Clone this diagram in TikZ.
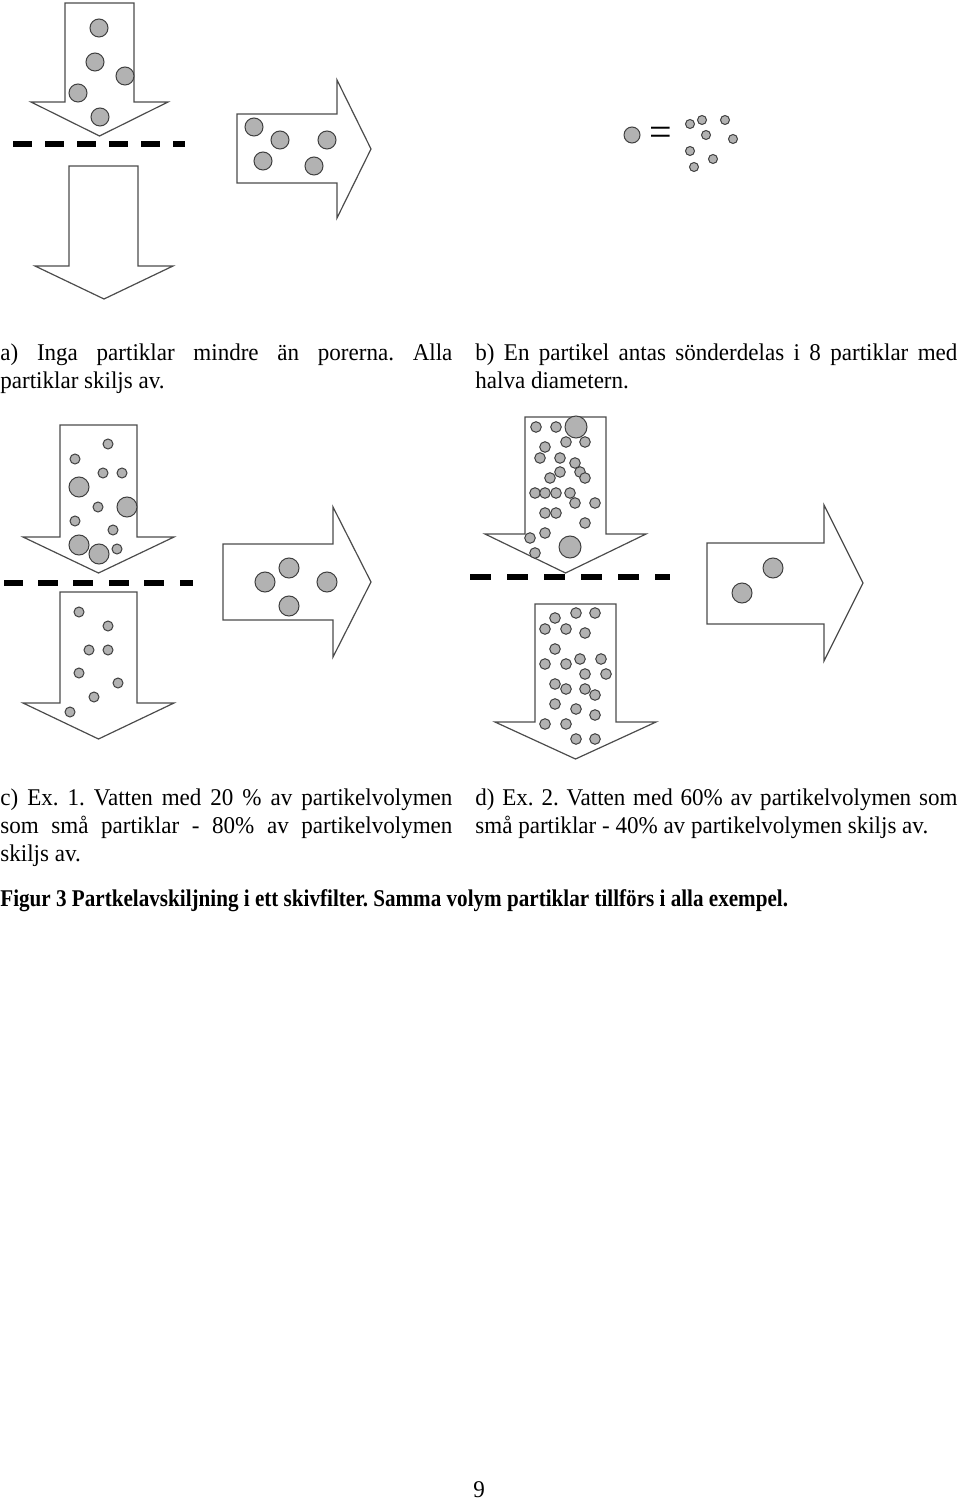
\documentclass[tikz,border=0pt]{standalone}
\usepackage{fontspec}
\setmainfont{Liberation Serif}
\newfontfamily\regfont{Liberation Serif}[FakeStretch=0.96]
\newfontfamily\capfont{Liberation Serif Bold}[FakeStretch=0.88]
\newcommand\mypart[3]{\draw[particle] (#1,#2) circle[radius=#3*0.5pt];}
\newcommand\mydash[3]{\fill[filterdash] (#1,#3-3) rectangle (#2,#3+3);}
\frenchspacing
\begin{document}
\frenchspacing
\begin{tikzpicture}[x=0.5pt,y=-0.5pt,
  arrowshape/.style={draw=black!70, line width=0.6pt, fill=white, line join=miter},
  particle/.style={draw=black!75, line width=0.5pt, fill=black!30},
  filterdash/.style={fill=black},
  txt/.style={inner sep=0pt, anchor=base west, font=\fontsize{12}{14}\regfont\frenchspacing},
]
\useasboundingbox (0,0) rectangle (960,1502);

% ---------- panel a ----------
\draw[arrowshape] (65,3) -- (134,3) -- (134,102) -- (168,102) -- (99.5,136) -- (31,102) -- (65,102) -- cycle;
\foreach \a/\b in {13/32,45/64,77/96,109/128,141/160,173/185} {\mydash{\a}{\b}{144}}
\draw[arrowshape] (69,166) -- (138,166) -- (138,266) -- (173,266) -- (104,299) -- (35,266) -- (69,266) -- cycle;
\draw[arrowshape] (237,114) -- (337,114) -- (337,80) -- (371,149) -- (337,218) -- (337,183) -- (237,183) -- cycle;
\foreach \x/\y in {99/28,95/62,125/76,78/93,100/117} {\mypart{\x}{\y}{9}}
\foreach \x/\y in {254/127,280/140,327/140,263/161,314/166} {\mypart{\x}{\y}{9}}

% ---------- panel b ----------
\mypart{632}{135}{8}
\node[inner sep=0pt, font=\fontsize{20}{20}\selectfont] (eq) at (661,136) {=};
\foreach \x/\y in {690/124,702/120,725/120,706/135,733/139,690/151,713/159,694/167} {\mypart{\x}{\y}{4.5}}

% ---------- panel c ----------
\draw[arrowshape] (60,425) -- (137,425) -- (137,537) -- (174,537) -- (98.5,573) -- (23,537) -- (60,537) -- cycle;
\foreach \a/\b in {4/23,38/58,73/93,109/129,144/164,180/193} {\mydash{\a}{\b}{583}}
\draw[arrowshape] (60,592) -- (137,592) -- (137,703) -- (174,703) -- (98.5,739) -- (23,703) -- (60,703) -- cycle;
\draw[arrowshape] (223,544) -- (333,544) -- (333,507) -- (371,582) -- (333,657) -- (333,620) -- (223,620) -- cycle;
\foreach \x/\y in {108/444,75/459,103/473,122/473,98/507,75/521,113/530,117/549} {\mypart{\x}{\y}{5}}
\foreach \x/\y in {79/487,127/507,79/545,99/554} {\mypart{\x}{\y}{10}}
\foreach \x/\y in {79/612,108/626,89/650,108/650,79/673,118/683,94/697,70/712} {\mypart{\x}{\y}{5}}
\foreach \x/\y in {265/582,289/568,289/606,327/582} {\mypart{\x}{\y}{10}}

% ---------- panel d ----------
\draw[arrowshape] (525,417) -- (606,417) -- (606,534) -- (646,534) -- (565.5,573) -- (485,534) -- (525,534) -- cycle;
\foreach \a/\b in {470/491,507/528,544/565,581/602,618/639,655/670} {\mydash{\a}{\b}{577}}
\draw[arrowshape] (535,604) -- (616,604) -- (616,722) -- (656,722) -- (575.5,759) -- (495,722) -- (535,722) -- cycle;
\draw[arrowshape] (707,543) -- (824,543) -- (824,505) -- (863,583) -- (824,661) -- (824,624) -- (707,624) -- cycle;
\foreach \x/\y in {536/427,556/427,545/447,566/442,585/442,540/458,560/458,575/463,560/472,580/472,585/478,550/478,535/493,545/493,556/493,570/493,575/503,595/503,545/513,556/513,585/523,530/538,545/533,535/553} {\mypart{\x}{\y}{5.3}}
\mypart{576}{427}{11}
\mypart{570}{547}{11}
\foreach \x/\y in {555/618,576/613,595/613,545/629,566/629,585/633,555/649,545/664,566/664,580/659,601/659,585/674,606/674,555/684,566/689,585/689,595/695,555/704,576/709,595/715,545/724,566/724,576/739,595/739} {\mypart{\x}{\y}{5.3}}
\foreach \x/\y in {773/568,742/593} {\mypart{\x}{\y}{10}}

% ---------- texts ----------
\node[txt] (ta1) at (0,361) {\makebox[226pt][s]{a) Inga partiklar mindre än porerna. Alla}};
\node[txt] (ta2) at (0,389) {partiklar skiljs av.};
\node[txt] (tb1) at (475,361) {\makebox[241pt][s]{b) En partikel antas sönderdelas i 8 partiklar med}};
\node[txt] (tb2) at (475,389) {halva diametern.};
\node[txt] (tc1) at (0,805) {\makebox[226pt][s]{c) Ex. 1. Vatten med 20 \% av partikelvolymen}};
\node[txt] (tc2) at (0,833) {\makebox[226pt][s]{som små partiklar - 80\% av partikelvolymen}};
\node[txt] (tc3) at (0,861) {skiljs av.};
\node[txt] (td1) at (475,805) {\makebox[241pt][s]{d) Ex. 2. Vatten med 60\% av partikelvolymen som}};
\node[txt] (td2) at (475,833) {små partiklar - 40\% av partikelvolymen skiljs av.};
\node[txt, font=\fontsize{12}{14}\capfont\frenchspacing] (cap) at (0,906) {Figur 3 Partkelavskiljning i ett skivfilter. Samma volym partiklar tillförs i alla exempel.};
\node[txt] (pg) at (473,1497) {9};
\end{tikzpicture}
\end{document}
